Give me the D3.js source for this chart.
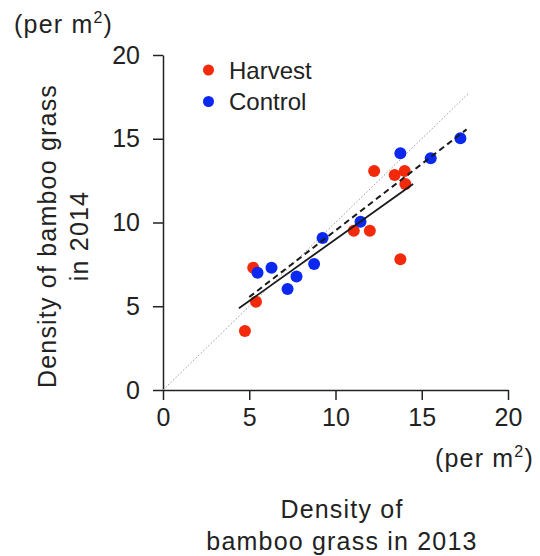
<!DOCTYPE html>
<html>
<head>
<meta charset="utf-8">
<script src="https://cdn.jsdelivr.net/npm/d3@7/dist/d3.min.js"></script>
<style>
  html, body { margin: 0; padding: 0; background: #fff; }
  svg { display: block; }
  text { font-family: "Liberation Sans", Arial, Helvetica, sans-serif; fill: #222; }
</style>
</head>
<body>
<svg id="chart" width="540" height="556"></svg>
<script>
// ---- data ----
const xTicks = [0, 5, 10, 15, 20];
const yTicks = [0, 5, 10, 15, 20];
const harvestX = [5.23, 5.39, 4.75, 11.06, 11.99, 12.24, 13.43, 14.01, 14.05, 13.76];
const harvestY = [7.30, 5.27, 3.52, 9.51, 9.51, 13.07, 12.84, 13.07, 12.30, 7.80];
const controlX = [5.48, 6.29, 7.22, 7.74, 8.76, 9.25, 11.45, 13.76, 15.52, 17.24];
const controlY = [7.00, 7.30, 6.03, 6.77, 7.52, 9.07, 10.05, 14.13, 13.83, 15.03];
// fitted lines (endpoints)
const harvestFitX = [4.4, 14.5];
const harvestFitY = [4.88, 12.30];
const controlFitX = [5.0, 17.6];
const controlFitY = [5.55, 15.56];
// 1:1 reference line
const oneToOneX = [0, 17.7];
const oneToOneY = [0, 17.7];
const seriesNames = ["Harvest", "Control"];
const seriesColors = ["#f2290a", "#0a28f0"];

// ---- chart ----
const svg = d3.select("#chart");
const x = d3.scaleLinear().domain([0, 20]).range([163, 508]);
const y = d3.scaleLinear().domain([0, 20]).range([390, 55]);

const axisColor = "#222";

const gx = svg.append("g").attr("transform", `translate(0,${y(0)})`)
  .call(d3.axisBottom(x).tickValues(xTicks).tickSize(10).tickSizeOuter(0).tickPadding(8));
const gy = svg.append("g").attr("transform", `translate(${x(0)},0)`)
  .call(d3.axisLeft(y).tickValues(yTicks).tickSize(10).tickSizeOuter(0).tickPadding(13));

[gx, gy].forEach(g => {
  g.select(".domain").attr("stroke", axisColor).attr("stroke-width", 1.5);
  g.selectAll(".tick line").attr("stroke", axisColor).attr("stroke-width", 1.5);
  g.selectAll(".tick text").attr("font-size", 25).attr("fill", axisColor)
    .attr("font-family", '"Liberation Sans", Arial, sans-serif');
});

// 1:1 dotted line
const lineGen = d3.line().x(d => x(d[0])).y(d => y(d[1]));
svg.append("path")
  .datum(oneToOneX.map((v, i) => [v, oneToOneY[i]]))
  .attr("d", lineGen).attr("fill", "none")
  .attr("stroke", "#9a9a9a").attr("stroke-width", 1).attr("stroke-dasharray", "1.5,2");

// points
const harvest = harvestX.map((v, i) => [v, harvestY[i]]);
const control = controlX.map((v, i) => [v, controlY[i]]);
[[harvest, seriesColors[0]], [control, seriesColors[1]]].forEach(([pts, col]) => {
  svg.append("g").selectAll("circle").data(pts).join("circle")
    .attr("cx", d => x(d[0])).attr("cy", d => y(d[1])).attr("r", 6)
    .attr("fill", col);
});

// fit lines
svg.append("path")
  .datum(harvestFitX.map((v, i) => [v, harvestFitY[i]]))
  .attr("d", lineGen).attr("fill", "none")
  .attr("stroke", "#1a1a1a").attr("stroke-width", 1.8);
svg.append("path")
  .datum(controlFitX.map((v, i) => [v, controlFitY[i]]))
  .attr("d", lineGen).attr("fill", "none")
  .attr("stroke", "#1a1a1a").attr("stroke-width", 2).attr("stroke-dasharray", "6,4");

// legend
const legend = svg.append("g");
seriesNames.forEach((name, i) => {
  const cy = 70 + i * 31.5;
  legend.append("circle").attr("cx", 208.5).attr("cy", cy).attr("r", 5.5).attr("fill", seriesColors[i]);
  legend.append("text").attr("x", 229).attr("y", cy + 8.5)
    .attr("font-family", "Lato, 'Open Sans', sans-serif")
    .attr("font-size", 24).attr("fill", "#111").text(name);
});

// axis titles
const titleStyle = sel => sel.attr("font-size", 25).attr("letter-spacing", 1.2).attr("fill", "#222");

function perM2(xPos, yPos, anchor) {
  const t = svg.append("text").attr("x", xPos).attr("y", yPos).attr("text-anchor", anchor).call(titleStyle);
  t.append("tspan").text("(per m");
  t.append("tspan").attr("font-size", 16).attr("dy", -10).text("2");
  t.append("tspan").attr("dy", 10).text(")");
}
perM2(14, 33, "start");
perM2(534, 467, "end");

svg.append("text").attr("x", 342).attr("y", 518).attr("text-anchor", "middle").call(titleStyle).text("Density of");
svg.append("text").attr("x", 342).attr("y", 550).attr("text-anchor", "middle").call(titleStyle).text("bamboo grass in 2013");

const yt = svg.append("g").attr("transform", "translate(0,236) rotate(-90)");
yt.append("text").attr("x", 0).attr("y", 56).attr("text-anchor", "middle").call(titleStyle).text("Density of bamboo grass");
yt.append("text").attr("x", 0).attr("y", 88).attr("text-anchor", "middle").call(titleStyle).text("in 2014");
</script>
</body>
</html>
